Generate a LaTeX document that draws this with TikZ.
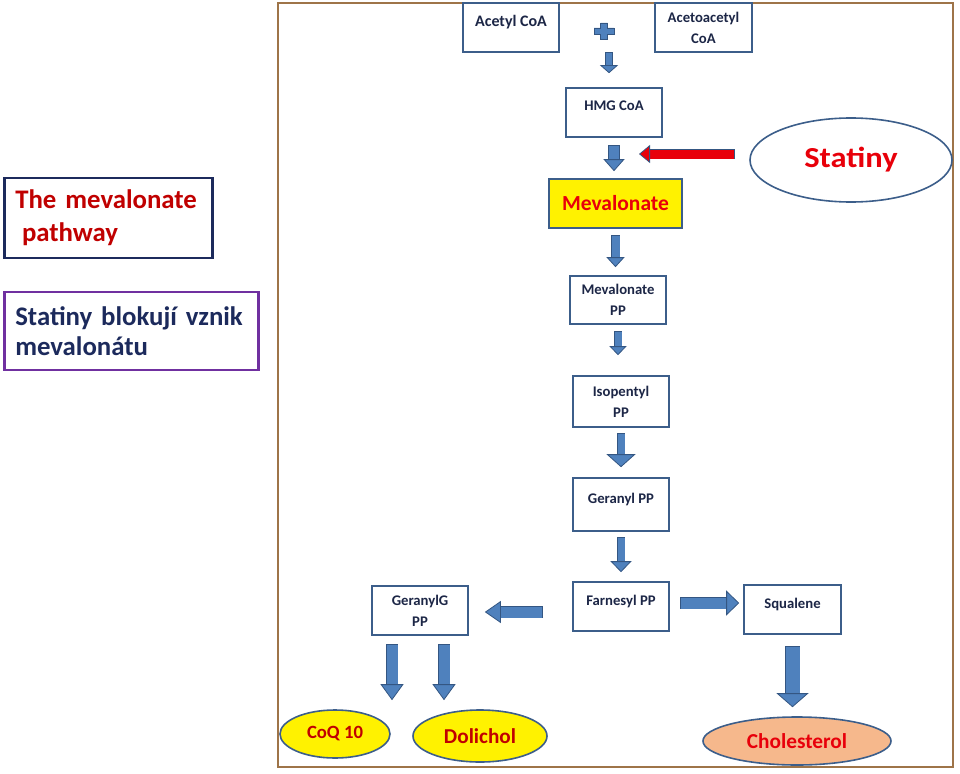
\documentclass[tikz,border=0pt]{standalone}
\usepackage{fontspec}
\setmainfont{Carlito}
\newfontfamily\widefont{Carlito}[FakeStretch=1.12]
\usetikzlibrary{arrows.meta, shapes.geometric, calc}
\definecolor{boxedge}{RGB}{60,94,138}
\definecolor{arrowfill}{RGB}{79,129,189}
\definecolor{arrowedge}{RGB}{52,86,130}
\definecolor{ink}{RGB}{28,38,70}
\definecolor{darkred}{RGB}{192,0,0}
\definecolor{stopred}{RGB}{232,0,10}
\definecolor{peach}{RGB}{246,184,140}
\definecolor{navy}{RGB}{28,42,92}
\definecolor{violet}{RGB}{112,48,160}
\definecolor{framebrown}{RGB}{158,116,72}

\begin{document}
\begin{tikzpicture}[x=1pt,y=-1pt,
  box/.style={draw=boxedge, line width=1.6pt, fill=white, minimum width=96pt,
    minimum height=49pt, align=center, inner sep=2pt, text=ink,
    font=\bfseries\fontsize{14.7}{21}\selectfont},
  blob/.style={ellipse, draw=boxedge, line width=1.6pt, fill=yellow, inner sep=0pt},
  % shaft / head width / head length / gap at start / gap at end
  flow/.style n args={5}{line width=#1, draw=arrowfill, shorten <=#4, shorten >=#5,
    -{Triangle[width=#2,length=#3,line width=0.8pt,color=arrowedge,fill=arrowfill]},
    preaction={draw=arrowedge, line width=#1+1.6pt, arrows=-,
      shorten <=#4-0.8pt, shorten >=#5+#3-0.8pt}},
  note/.style={line width=2.6pt, align=left, inner xsep=10pt, anchor=west}]
  \useasboundingbox (0,0) rectangle (960,773);

  % side notes
  \node[note, draw=navy, text=darkred, minimum width=208pt, minimum height=80pt,
    text width=186pt, font=\bfseries\fontsize{26.8}{33}\selectfont] (title) at (3,218)
    {The mevalonate\\\hspace{0.25em}pathway};
  \node[note, draw=violet, text=navy, minimum width=254pt, minimum height=78pt,
    text width=232pt, font=\bfseries\fontsize{26.8}{30}\selectfont] (hint) at (3,331)
    {Statiny blokují vznik\\mevalonátu};

  \draw[framebrown, line width=1.5pt] (278,3) rectangle (953,767);

  % pathway
  \node[box, font=\bfseries\fontsize{16}{21}\selectfont] (acetyl) at (511,27.5) {Acetyl CoA\\[-8pt]\phantom{P}};
  \node[box, minimum width=97pt] (aceto) at (703.5,27.5) {Acetoacetyl\\CoA};
  \coordinate (plus) at (609,31);
  \draw[fill=arrowfill, draw=arrowedge, line width=0.8pt]
    (600.5,23) -- (607.5,23) -- (607.5,28) -- (614,28) -- (614,34) -- (607.5,34)
    -- (607.5,39) -- (600.5,39) -- (600.5,34) -- (594,34) -- (594,28) -- (600.5,28) -- cycle;
  \node[box] (hmg) at (614,112.5) {HMG CoA\\[-8pt]\phantom{P}};
  \node[box, fill=yellow, minimum width=133pt, text=stopred,
    font=\bfseries\fontsize{21.5}{24}\selectfont] (mev) at (615.5,203.5) {Mevalonate};
  \node[box, minimum height=48pt] (mevpp) at (618,300) {Mevalonate\\PP};
  \node[box, minimum height=51pt] (iso) at (621,401.5) {Isopentyl\\PP};
  \node[box, minimum height=53pt] (ger) at (621,504.5) {Geranyl PP\\[-8pt]\phantom{P}};
  \node[box] (farn) at (621,606.5) {Farnesyl PP\\[-8pt]\phantom{P}};
  \node[box] (gerg) at (420,610.5) {GeranylG\\PP};
  \node[box, minimum width=97pt] (squal) at (792.5,609.5) {Squalene\\[-8pt]\phantom{P}};

  \node[ellipse, draw=boxedge, line width=1.6pt, minimum width=202pt, minimum height=84pt,
    text=stopred, font=\widefont\bfseries\fontsize{29}{30}\selectfont] (statiny) at (851,160) {Statiny};
  \node[blob, minimum width=110pt, minimum height=48pt, text=darkred,
    font=\bfseries\fontsize{18.7}{20}\selectfont] (coq) at (335,734) {CoQ 10};
  \node[blob, minimum width=134pt, minimum height=52pt, text=darkred,
    font=\bfseries\fontsize{21.2}{24}\selectfont] (dol) at (480,736) {Dolichol};
  \node[blob, fill=peach, minimum width=188pt, minimum height=48pt, text=stopred,
    font=\bfseries\fontsize{21.3}{24}\selectfont] (chol) at (797,741) {Cholesterol};

  % arrows
  \draw[flow={6.5pt}{18pt}{8pt}{22pt}{14pt}] (plus) -- (plus |- hmg.north);
  \draw[flow={10pt}{21pt}{12pt}{8pt}{7pt}] (hmg.south) -- (hmg.south |- mev.north);
  \coordinate (block) at (613,154);
  \draw[flow={8pt}{18pt}{10pt}{7pt}{8pt}] (mev.south) -- (mev.south |- mevpp.north);
  \draw[flow={7pt}{17pt}{9pt}{7pt}{20pt}] (mevpp.south) -- (mevpp.south |- iso.north);
  \draw[flow={7pt}{29pt}{13pt}{6pt}{10pt}] (iso.south) -- (iso.south |- ger.north);
  \draw[flow={7pt}{21pt}{11pt}{6pt}{9pt}] (ger.south) -- (ger.south |- farn.north);
  \draw[flow={11pt}{22pt}{16pt}{30pt}{16pt}]
    ([yshift=-5.5pt]farn.west) -- ([yshift=-5.5pt]farn.west -| gerg.east);
  \draw[flow={11pt}{25pt}{13pt}{11pt}{4pt}]
    ([yshift=3.5pt]farn.east) -- ([yshift=3.5pt]farn.east -| squal.west);
  \draw[flow={11pt}{23pt}{16pt}{9pt}{9pt}]
    ([xshift=-28pt]gerg.south) -- ([xshift=-28pt]gerg.south |- coq.north);
  \draw[flow={11pt}{23pt}{16pt}{9pt}{9pt}]
    ([xshift=24pt]gerg.south) -- ([xshift=24pt]gerg.south |- dol.north);
  \draw[flow={14pt}{32pt}{14pt}{12pt}{9pt}] (squal.south) -- (squal.south |- chol.north);

  % statin block
  \draw[flow={9pt}{18pt}{11pt}{15pt}{26pt}, draw=stopred,
    -{Triangle[width=18pt,length=11pt,line width=0.8pt,color=arrowedge,fill=stopred]}]
    (statiny.west |- block) -- (block);
\end{tikzpicture}
\end{document}
